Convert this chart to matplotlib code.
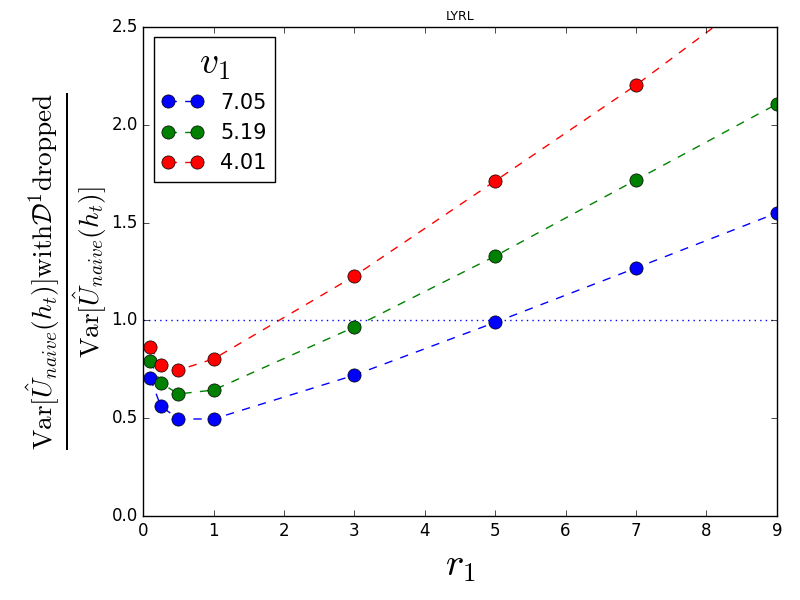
import matplotlib
matplotlib.use('Agg')
import matplotlib.pyplot as plt

plt.style.use('classic')
plt.rcParams['mathtext.fontset'] = 'cm'

# data
r1 = [0.1, 0.25, 0.5, 1, 3, 5, 7, 9]
v1_labels = ['7.05', '5.19', '4.01']
ratio_705 = [0.705, 0.562, 0.496, 0.496, 0.72, 0.99, 1.268, 1.549]
ratio_519 = [0.792, 0.68, 0.624, 0.644, 0.966, 1.329, 1.718, 2.106]
ratio_401 = [0.864, 0.772, 0.746, 0.803, 1.227, 1.713, 2.203, 2.74]
colors = ['b', 'g', 'r']

fig = plt.figure(figsize=(8, 6), dpi=100, facecolor='white')
ax = fig.add_subplot(111)
fig.subplots_adjust(left=0.179, right=0.971, bottom=0.14, top=0.955)

for vals, lab, c in zip([ratio_705, ratio_519, ratio_401], v1_labels, colors):
    ax.plot(r1, vals, '--o', color=c, markersize=9.5, label=lab)

ax.axhline(1.0, color='b', linestyle=':')

ax.set_xlim(0, 9)
ax.set_ylim(0, 2.5)
ax.set_title('LYRL', fontsize=9)
ax.set_xlabel(r'$r_1$', fontsize=28)
ax.set_ylabel(r'$\frac{\mathrm{Var}[\hat{U}_{naive}(h_t)]\mathrm{with}\mathcal{D}^1\mathrm{dropped}}{\mathrm{Var}[\hat{U}_{naive}(h_t)]}$',
              fontsize=28, labelpad=2)

leg = ax.legend(loc='upper left', numpoints=2, title=r'$v_1$', fontsize=15)
leg.get_title().set_fontsize(27)

fig.savefig('out.png', dpi=100, facecolor='white')
